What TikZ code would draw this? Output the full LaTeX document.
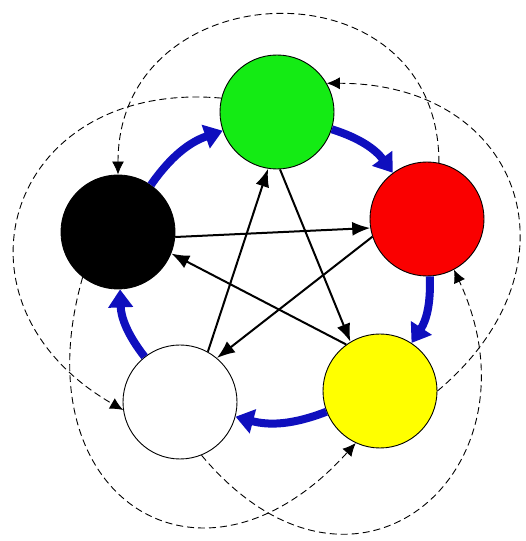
\documentclass[tikz,border=0pt]{standalone}
\usetikzlibrary{arrows.meta}

\definecolor{woodgreen}{RGB}{20,235,20}
\definecolor{firered}{RGB}{250,0,0}
\definecolor{earthyellow}{RGB}{255,255,0}
\definecolor{cycleblue}{RGB}{15,15,190}

\begin{document}
\begin{tikzpicture}[
    x=1pt, y=1pt,
    element/.style={
        circle,
        draw,
        line width=0.9pt,
        minimum size=114pt,
        inner sep=0pt
    },
    feed/.style={
        draw=cycleblue,
        line width=8pt,
        -{Triangle[length=18pt,width=24pt]},
        bend left=18
    },
    check/.style={
        draw,
        line width=2pt,
        -{Latex[length=18pt,width=14pt]}
    },
    counter/.style={
        draw,
        line width=0.9pt,
        dash pattern=on 7pt off 4pt,
        -{Latex[length=13pt,width=12pt]}
    }
]
\useasboundingbox (0,0) rectangle (525,541);

\node[element, fill=woodgreen] (wood) at (277,429) {};
\node[element, fill=firered] (fire) at (427,322) {};
\node[element, fill=earthyellow] (earth) at (380,150) {};
\node[element, fill=white] (metal) at (180,139) {};
\node[element, fill=black] (water) at (118,309) {};

% outer cycle
\draw[feed] (water) to (wood);
\draw[feed] (wood) to (fire);
\draw[feed] (fire) to (earth);
\draw[feed] (earth) to (metal);
\draw[feed] (metal) to (water);

% star
\draw[check] (water.-5) -- (fire.189);
\draw[check] (fire.198) -- (metal.50);
\draw[check] (earth.126) -- (water.-22);
\draw[check] (wood.-87) -- (earth.121);
\draw[check] (metal.61) -- (wood.-99);

% dashed arcs
\draw[counter] (fire.78) to[out=90, in=90, distance=205pt] (water.90);
\draw[counter] (earth.0) to[out=40, in=0, distance=195pt] (wood.30);
\draw[counter] (metal.-68) to[out=-50, in=-65, out distance=240pt, in distance=220pt] (fire.-62);
\draw[counter] (water.-128) to[out=-106, in=-132, distance=230pt] (earth.-115);
\draw[counter] (wood.166) to[out=175, in=150, distance=215pt] (metal.188);

\end{tikzpicture}
\end{document}
